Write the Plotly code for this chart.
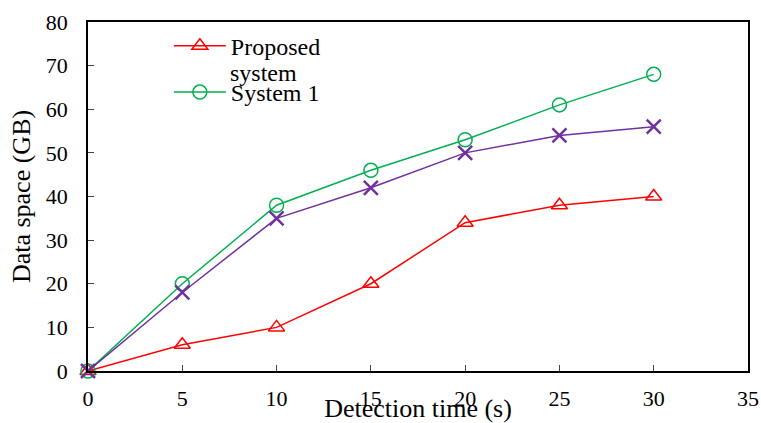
import plotly.graph_objects as go

x_vals = [0, 5, 10, 15, 20, 25, 30]
proposed = [0, 6, 10, 20, 34, 38, 40]
system1 = [0, 20, 38, 46, 53, 61, 68]
system2 = [0, 18, 35, 42, 50, 54, 56]
x_ticks = [0, 5, 10, 15, 20, 25, 30, 35]
y_ticks = [0, 10, 20, 30, 40, 50, 60, 70, 80]

FONT = "Liberation Serif, Times New Roman, serif"

fig = go.Figure()
fig.add_trace(go.Scatter(
    x=x_vals, y=proposed, name="Proposed", mode="lines+markers",
    line=dict(color="#ff0000", width=1.5),
    marker=dict(symbol="triangle-up-open", size=14, color="#ff0000", line=dict(width=1.5)),
    cliponaxis=False, legendgroup="a"))
fig.add_trace(go.Scatter(
    x=x_vals, y=system1, name="System 1", mode="lines+markers",
    line=dict(color="#00b050", width=1.5),
    marker=dict(symbol="circle-open", size=14, color="#00b050", line=dict(width=1.5)),
    cliponaxis=False, legendgroup="b"))
fig.add_trace(go.Scatter(
    x=x_vals, y=system2, name="System 2", mode="lines+markers",
    line=dict(color="#7030a0", width=1.5),
    marker=dict(symbol="x-thin-open", size=14, color="#7030a0", line=dict(width=2.5, color="#7030a0")),
    cliponaxis=False, showlegend=False))

fig.update_layout(
    width=761, height=423,
    margin=dict(l=88, r=13, t=22, b=52),
    paper_bgcolor="white", plot_bgcolor="white",
    font=dict(family=FONT, size=22, color="black"),
    showlegend=True,
    legend=dict(x=0.1225, y=0.995, xanchor="left", yanchor="top",
                traceorder="grouped", tracegroupgap=12, itemwidth=52,
                bgcolor="rgba(0,0,0,0)", font=dict(family=FONT, size=24)),
    xaxis=dict(range=[0, 35], tickvals=x_ticks, ticks="inside", ticklen=6,
               showline=True, linecolor="black", linewidth=1.5, mirror=True,
               showgrid=False, zeroline=False, ticklabelstandoff=7, automargin=False,
               tickfont=dict(size=22), ticklabeloverflow="allow",
               title=dict(text="Detection time (s)", font=dict(size=26), standoff=0)),
    yaxis=dict(range=[0, 80], tickvals=y_ticks, ticks="inside", ticklen=6,
               showline=True, linecolor="black", linewidth=1.5, mirror=True,
               showgrid=False, zeroline=False, ticklabelstandoff=14, automargin=False,
               tickfont=dict(size=22),
               title=dict(text="Data space (GB)", font=dict(size=26), standoff=8)),
)
fig.add_annotation(text="system", xref="paper", yref="paper", x=0.2125, y=0.855,
                   xanchor="left", yanchor="middle", showarrow=False,
                   font=dict(family=FONT, size=24))

fig.write_html("out.html", config={"displayModeBar": False},
               post_script="document.body.style.margin='0';document.body.style.overflow='hidden';")
